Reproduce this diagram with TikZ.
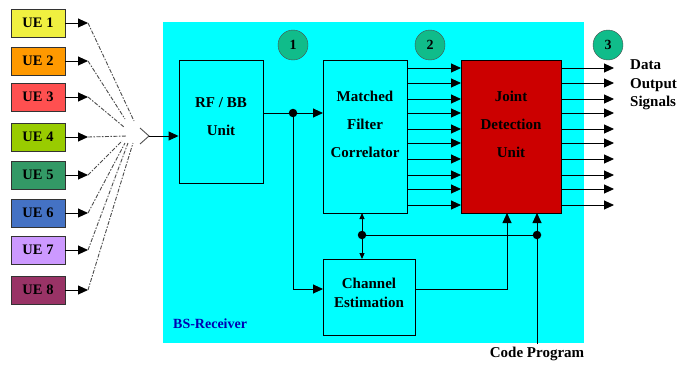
\documentclass[tikz,border=0pt]{standalone}
\usepackage{fontspec}
\setmainfont{Liberation Serif}
\usepackage{xcolor}
\usetikzlibrary{arrows.meta}

\definecolor{rxcyan}{HTML}{00FFFF}
\definecolor{jdred}{HTML}{CC0000}
\definecolor{stepgreen}{HTML}{10BC8A}
\definecolor{uea}{HTML}{F0F040}
\definecolor{ueb}{HTML}{FF9900}
\definecolor{uec}{HTML}{FF5050}
\definecolor{ued}{HTML}{99CC00}
\definecolor{uee}{HTML}{339966}
\definecolor{uef}{HTML}{4472C4}
\definecolor{ueg}{HTML}{CC99FF}
\definecolor{ueh}{HTML}{993366}

\tikzset{
  uebox/.style={draw=black!80, line width=0.9pt, minimum width=54pt, minimum height=28pt, inner sep=0pt, font=\fontsize{14.5}{16}\selectfont\bfseries},
  block/.style={draw=black, line width=0.9pt, inner sep=0pt, align=center, font=\fontsize{15}{28}\selectfont\bfseries},
  stepmark/.style={draw=black!70, fill=stepgreen, circle, minimum size=30pt, inner sep=0pt, font=\fontsize{14}{16}\selectfont\bfseries},
  dot/.style={fill=black, circle, minimum size=8.5pt, inner sep=0pt},
  link/.style={-{Triangle[length=10pt,width=9pt]}, line width=0.9pt},
  radio/.style={black!70, line width=0.9pt, dash pattern=on 4pt off 1.5pt on 1.5pt off 1.5pt},
  label/.style={font=\fontsize{15}{18.5}\selectfont\bfseries}
}

\begin{document}
\begin{tikzpicture}[x=1pt, y=-1pt]
  \useasboundingbox (0,0) rectangle (679,364);
  % receiver background
  \fill[rxcyan] (163,22) rectangle (584,343);
  \node[font=\fontsize{14}{16}\selectfont\bfseries, text=blue!70!black, anchor=west, inner sep=0pt] (rxname) at (173,324) {BS-Receiver};

  % user terminals and their paths to the antenna
  \foreach \k/\col/\ypos/\xend/\yend in {1/uea/23/134/121, 2/ueb/61/125/119, 3/uec/97/124/127, 4/ued/137/127/136,
      5/uee/175/122/141, 6/uef/213/125/143, 7/ueg/250/128/143, 8/ueh/290/133/143}{
    \node[uebox, fill=\col] (ue\k) at (38,\ypos) {UE \k};
    \coordinate (tip\k) at (88,\ypos);
    \coordinate (rx\k) at (\xend,\yend);
    \draw[link] (ue\k.east) -- (tip\k);
    \draw[radio] (tip\k) -- (rx\k);
  }

  % antenna
  \coordinate (anta) at (140,128);
  \coordinate (antb) at (140,144);
  \coordinate (ant) at (149,136);
  \draw[black!70, line width=0.9pt] (anta) -- (ant) -- (antb);

  % blocks
  \node[block, minimum width=84pt, minimum height=123pt] (rfbb) at (221,121.5) {RF / BB\\Unit\\[-19pt]\mbox{}};
  \node[block, minimum width=84pt, minimum height=153pt] (mf) at (365,136.5) {Matched\\Filter\\Correlator\\[-4pt]\mbox{}};
  \node[block, fill=jdred, minimum width=100pt, minimum height=153pt] (jd) at (511,136.5) {Joint\\Detection\\Unit\\[-4pt]\mbox{}};
  \node[block, minimum width=92pt, minimum height=76pt, font=\fontsize{15}{19}\selectfont\bfseries] (chan) at (369,297) {Channel\\Estimation\\[-11pt]\mbox{}};

  % numbered markers
  \node[stepmark] (one) at (293,45) {1};
  \node[stepmark] (two) at (430,45) {2};
  \node[stepmark] (three) at (608,45) {3};

  % parallel branches
  \foreach \k/\ypos in {1/68, 2/83, 3/99, 4/113, 5/129, 6/143, 7/159, 8/175, 9/189, 10/205}{
    \coordinate (mfout\k) at (407,\ypos);
    \coordinate (jdin\k) at (461,\ypos);
    \coordinate (jdout\k) at (561,\ypos);
    \coordinate (sig\k) at (614,\ypos);
    \draw[link] (mfout\k) -- (jdin\k);
    \draw[link] (jdout\k) -- (sig\k);
  }

  % receiver chain
  \draw[link] (ant) -- (rfbb.west |- ant);
  \node[dot] (split) at (293,113) {};
  \coordinate (mfin) at (323,113);
  \coordinate (rfout) at (263,113);
  \coordinate (chanin) at (323,289);
  \coordinate (chanout) at (415,289);
  \draw[link] (rfout) -- (mfin);
  \draw[link] (split) |- (chanin);

  % code and channel feeds
  \node[dot] (feed) at (362,235) {};
  \node[dot] (code) at (537,235) {};
  \coordinate (mfbot) at (362,213);
  \coordinate (chantop) at (362,259);
  \coordinate (jdchan) at (507,213);
  \coordinate (jdcode) at (537,213);
  \coordinate (codein) at (537,344);
  \draw[{Triangle[length=6pt,width=5pt]}-{Triangle[length=6pt,width=5pt]}, line width=0.9pt] (mfbot) -- (chantop);
  \draw[line width=0.9pt] (feed) -- (code);
  \draw[link] (chanout) -| (jdchan);
  \draw[link] (codein) -- (jdcode);

  \node[label, anchor=center, inner sep=0pt] (prog) at (537,354) {Code Program};
  \node[label, align=left, anchor=west, inner sep=0pt] (data) at (630,85) {Data\\Output\\Signals};
\end{tikzpicture}
\end{document}
